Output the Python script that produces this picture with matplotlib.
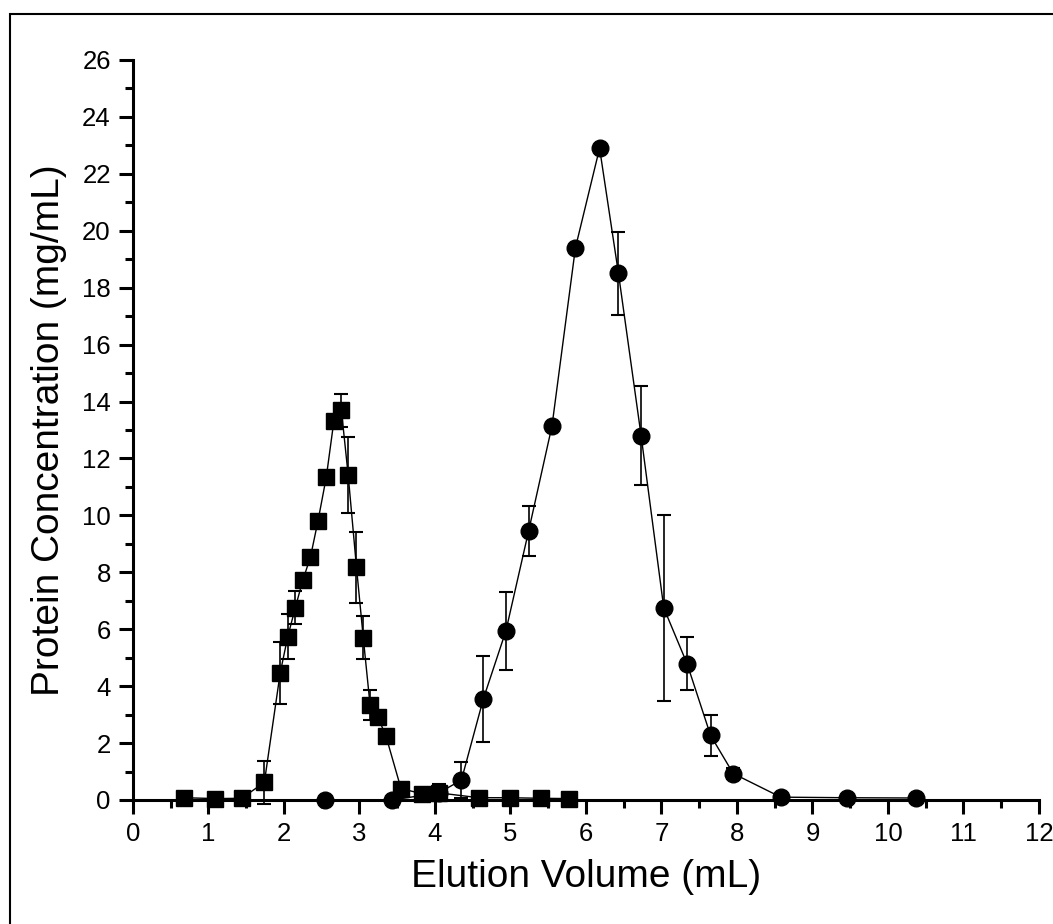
import numpy as np
import matplotlib
matplotlib.use('Agg')
import matplotlib.pyplot as plt
from matplotlib.patches import Rectangle

#資料----------------------------------------------------
sq_x = [0.67, 1.09, 1.44, 1.74, 1.95, 2.05, 2.15, 2.25, 2.35, 2.45, 2.56, 2.66, 2.76,
        2.85, 2.96, 3.05, 3.14, 3.24, 3.35, 3.55, 3.83, 4.05, 4.58, 4.99, 5.40, 5.78]
sq_y = [0.08, 0.05, 0.06, 0.62, 4.47, 5.74, 6.76, 7.73, 8.53, 9.80, 11.34, 13.30, 13.70,
        11.42, 8.18, 5.70, 3.34, 2.93, 2.25, 0.40, 0.22, 0.25, 0.08, 0.08, 0.06, 0.05]
sq_err = [0, 0, 0, 0.75, 1.08, 0.80, 0.58, 0, 0, 0, 0, 0, 0.58,
          1.33, 1.25, 0.75, 0.53, 0.20, 0, 0, 0, 0.10, 0, 0, 0, 0]

ci_x = [2.54, 3.43, 4.05, 4.35, 4.64, 4.94, 5.24, 5.55, 5.86, 6.18, 6.43, 6.73, 7.03,
        7.34, 7.65, 7.95, 8.58, 9.46, 10.37]
ci_y = [0.0, 0.0, 0.25, 0.70, 3.55, 5.95, 9.45, 13.15, 19.40, 22.90, 18.50, 12.80, 6.75,
        4.78, 2.27, 0.93, 0.10, 0.08, 0.07]
ci_err = [0, 0, 0.30, 0.62, 1.50, 1.37, 0.87, 0, 0, 0, 1.47, 1.74, 3.27,
          0.93, 0.73, 0.20, 0, 0, 0]

x_ticks = list(range(0, 13))
y_ticks = list(range(0, 27, 2))

#畫圖
plt.rcParams['font.family'] = ['Liberation Sans', 'DejaVu Sans']

fig = plt.figure(figsize=(10.53, 9.24), dpi=100)
ax = fig.add_axes([0.1263, 0.1342, 0.8604, 0.8009])

ax.errorbar(sq_x, sq_y, yerr=sq_err, fmt='-s', color='black', markersize=12,
            linewidth=1.0, elinewidth=1.2, capsize=5, capthick=1.5, clip_on=False)
ax.errorbar(ci_x, ci_y, yerr=ci_err, fmt='-o', color='black', markersize=12,
            linewidth=1.0, elinewidth=1.2, capsize=5, capthick=1.5, clip_on=False)

ax.set_xlim(0, 12)
ax.set_ylim(0, 26)
ax.set_xticks(x_ticks)
ax.set_yticks(y_ticks)
ax.set_xticks(np.arange(0.5, 12, 1), minor=True)
ax.set_yticks(np.arange(1, 26, 2), minor=True)

for s in ['top', 'right']:
    ax.spines[s].set_visible(False)
for s in ['left', 'bottom']:
    ax.spines[s].set_linewidth(2.2)

ax.tick_params(which='major', direction='out', length=10, width=2.2, labelsize=18.5, pad=6)
ax.tick_params(which='minor', direction='out', length=6, width=2.2)

ax.set_xlabel('Elution Volume (mL)', fontsize=28, labelpad=9)
ax.set_ylabel('Protein Concentration (mg/mL)', fontsize=28, labelpad=11)

# 外框
fig.patches.append(Rectangle((0.0095, -0.2), 1.5, 1.185, transform=fig.transFigure,
                             fill=False, edgecolor='black', linewidth=1.5))

plt.savefig('out.png', dpi=100)
